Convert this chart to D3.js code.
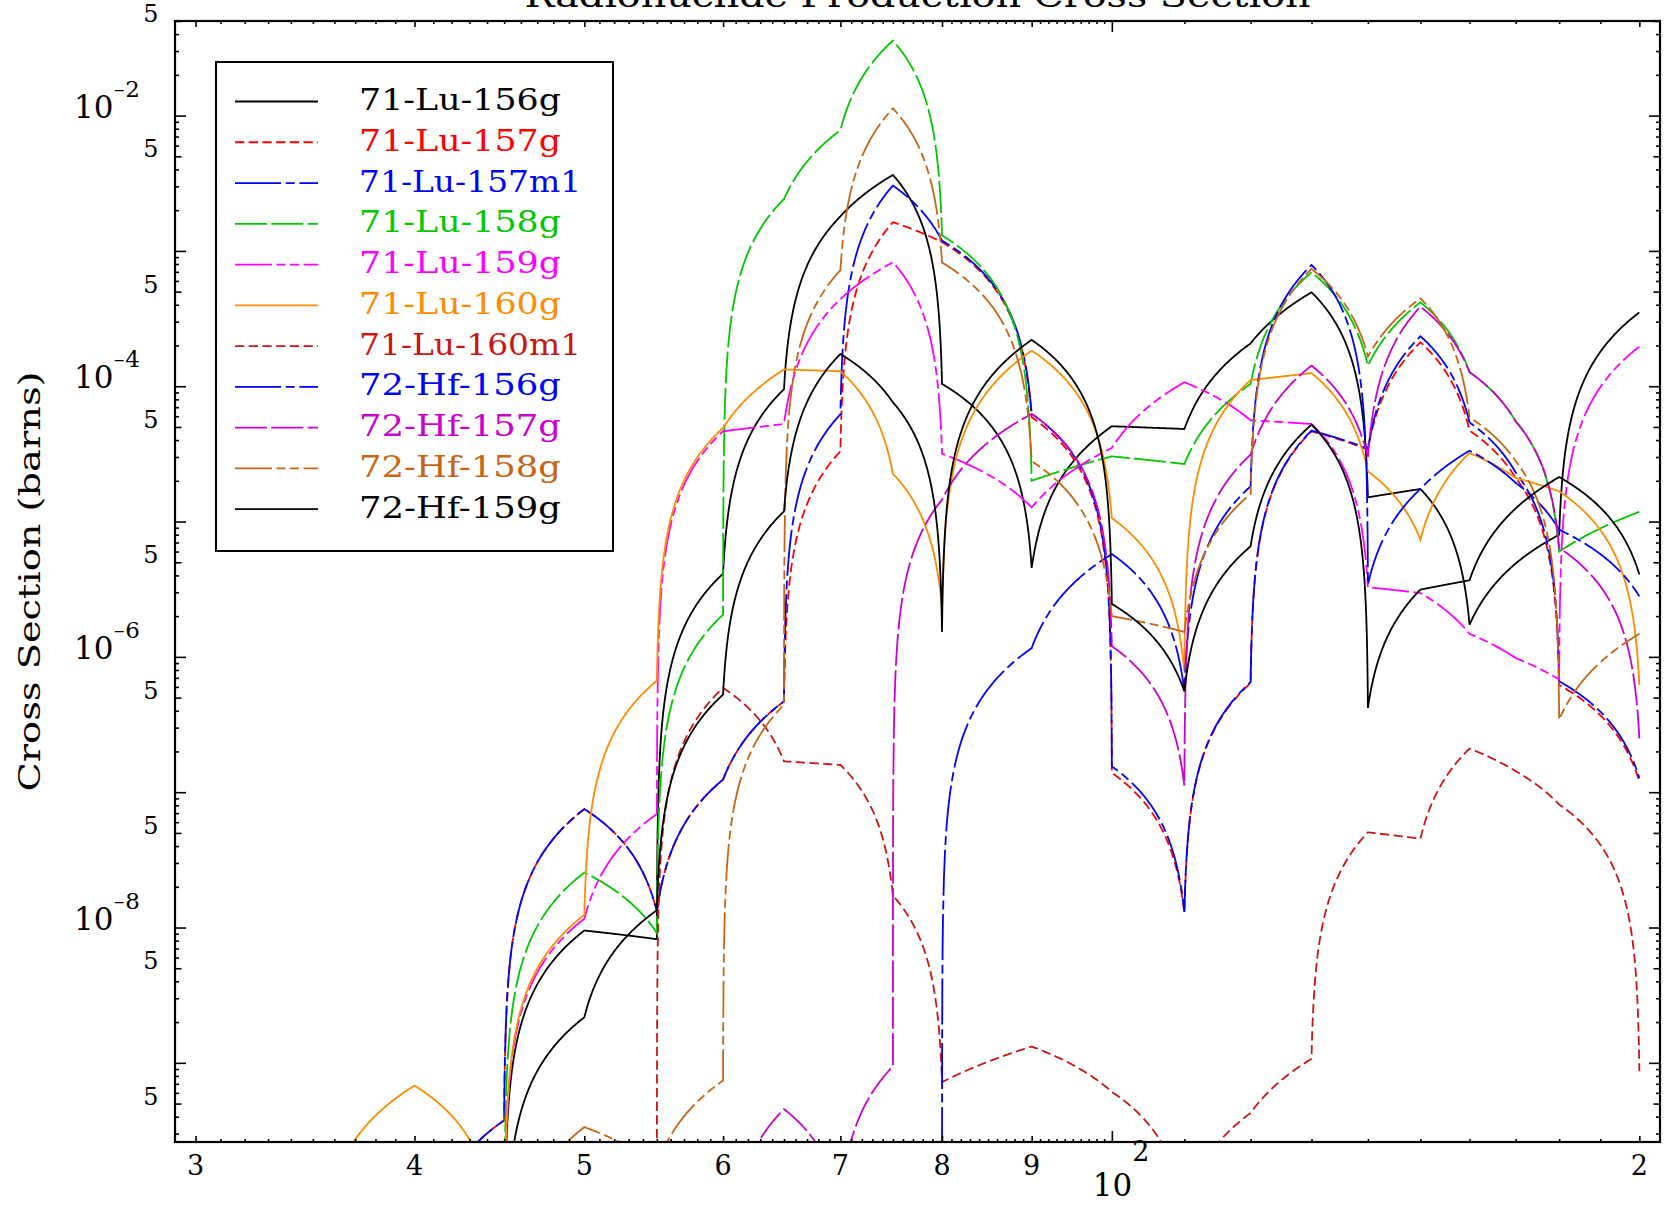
<!DOCTYPE html>
<html>
<head>
<meta charset="utf-8">
<script src="https://cdn.jsdelivr.net/npm/d3@7"></script>
<style>
body { margin: 0; background: #fff; }
svg { display: block; font-family: "DejaVu Serif", serif; }
</style>
</head>
<body>
<svg id="plot" width="1665" height="1207"></svg>
<script>
// incident energies (MeV) of the tabulated points
var energies = [35, 40, 45, 50, 55, 60, 65, 70, 75, 80, 90, 100, 110, 120, 130, 140, 150, 160, 170, 180, 200];

// production cross sections (barns), null = no point
var lu156g  = [null, null, 0, 9.5e-9, 8.2e-9, 4.12e-6, 9.5e-5, 1.8e-3, 3.64e-3, 1.04e-4, 4.54e-6, 5.06e-5, 4.83e-5, 2.07e-4, 4.94e-4, 1.51e-5, 1.74e-5, 1.73e-6, 4.9e-6, 8.0e-6, 3.51e-4];
var lu157g  = [null, 0, 3.76e-10, 7.51e-8, 1.31e-8, 1.24e-7, 4.69e-7, 3.3e-5, 1.63e-3, 1.16e-3, 5.9e-5, 1.39e-7, 1.28e-8, 6.4e-7, 4.64e-5, 3.4e-5, 2.11e-4, 4.7e-5, 2.1e-5, 6.2e-7, 1.2e-7];
var lu157m1 = [null, 0, 3.76e-10, 7.51e-8, 1.31e-8, 1.24e-7, 4.69e-7, 6.2e-5, 3.04e-3, 1.19e-3, 6.25e-5, 1.55e-7, 1.3e-8, 6.5e-7, 4.7e-5, 3.45e-5, 2.34e-4, 5.4e-5, 2.3e-5, 6.6e-7, 1.27e-7];
var lu158g  = [null, null, 0, 2.55e-8, 9.1e-9, 2.05e-6, 2.42e-3, 7.8e-3, 3.58e-2, 1.3e-3, 2.0e-5, 3.03e-5, 2.66e-5, 1.04e-4, 6.95e-4, 1.42e-4, 4.17e-4, 1.27e-4, 5.5e-5, 6.0e-6, 1.18e-5];
var lu159g  = [null, null, 0, 1.16e-8, 6.9e-8, 4.65e-5, 5.26e-5, 4.4e-4, 8.24e-4, 3.17e-5, 1.27e-5, 3.5e-5, 1.07e-4, 5.6e-5, 5.26e-5, 3.27e-6, 2.96e-6, 1.48e-6, 9.8e-7, 6.8e-7, 1.96e-4];
var lu160g  = [0, 6.78e-10, 0, 1.24e-8, 6.67e-7, 4.92e-5, 1.33e-4, 1.29e-4, 2.25e-5, 2.32e-6, 1.83e-4, 1.06e-5, 7.8e-7, 1.11e-4, 1.25e-4, 2.35e-5, 7.35e-6, 3.21e-5, 2.1e-5, 1.67e-5, 6.2e-7];
var lu160m1 = [null, null, null, null, 0, 5.9e-7, 1.69e-7, 1.59e-7, 1.72e-8, 7.2e-10, 1.32e-9, 6.1e-10, 8.7e-11, 4.26e-10, 1.07e-9, 5.05e-8, 4.53e-8, 2.1e-7, 1.43e-7, 8.1e-8, 8.65e-10];
var hf156g  = [null, null, null, null, null, null, null, null, null, 0, 1.16e-6, 5.75e-6, 5.6e-7, 1.82e-5, 7.87e-4, 3.42e-6, 1.74e-5, 3.34e-5, 1.93e-5, 8.7e-6, 2.8e-6];
var hf157g  = [null, null, null, null, null, 0, 4.55e-10, 1.0e-10, 9.4e-10, 1.45e-5, 6.24e-5, 1.2e-6, 1.12e-7, 3.12e-5, 1.42e-4, 3.0e-5, 3.87e-4, 1.27e-4, 5.5e-5, 6.4e-6, 2.5e-7];
var hf158g  = [null, null, 0, 3.35e-10, 1.76e-10, 7.41e-10, 4.43e-7, 7.2e-4, 1.13e-2, 8.2e-4, 2.79e-5, 2.0e-6, 1.53e-6, 1.6e-5, 7.36e-4, 1.66e-4, 4.46e-4, 5.9e-5, 2.8e-5, 3.43e-7, 1.48e-6];
var hf159g  = [null, null, 0, 2.17e-9, 1.34e-8, 5.26e-7, 1.19e-5, 1.73e-4, 7.6e-5, 1.53e-6, 2.2e-4, 2.46e-6, 5.56e-7, 6.56e-6, 5.2e-5, 4.19e-7, 3.14e-6, 3.68e-6, 1.25e-5, 2.13e-5, 4.06e-6];

var seriesNames = ["71-Lu-156g", "71-Lu-157g", "71-Lu-157m1", "71-Lu-158g", "71-Lu-159g", "71-Lu-160g",
                   "71-Lu-160m1", "72-Hf-156g", "72-Hf-157g", "72-Hf-158g", "72-Hf-159g"];
var seriesValues = [lu156g, lu157g, lu157m1, lu158g, lu159g, lu160g, lu160m1, hf156g, hf157g, hf158g, hf159g];

// tick labels
var xLabelValues = [30, 40, 50, 60, 70, 80, 90, 200];
var xLabelTexts = ["3", "4", "5", "6", "7", "8", "9", "2"];
var yFiveValues = [5e-2, 5e-3, 5e-4, 5e-5, 5e-6, 5e-7, 5e-8, 5e-9, 5e-10];
var yDecadeValues = [1e-2, 1e-4, 1e-6, 1e-8];
var yDecadeExponents = ["2", "4", "6", "8"];

var colors = { 
    "71-Lu-156g": "#000000", "71-Lu-157g": "#ff0000", "71-Lu-157m1": "#0000ff",
    "71-Lu-158g": "#00c800", "71-Lu-159g": "#ff00ff", "71-Lu-160g": "#ff8c00",
    "71-Lu-160m1": "#cc1414", "72-Hf-156g": "#0000ff", "72-Hf-157g": "#cc00cc",
    "72-Hf-158g": "#c86414", "72-Hf-159g": "#000000"
}

var dashes = {
    "71-Lu-156g": null, "71-Lu-157g": "9.3,4.4", "71-Lu-157m1": "46,4.7,9,4.7",
    "71-Lu-158g": "32,4.3", "71-Lu-159g": "37,4.5,9,4.5,9,4.5", "71-Lu-160g": null,
    "71-Lu-160m1": "9.3,4.4", "72-Hf-156g": "46,4.7,9,4.7", "72-Hf-157g": "32,4.3",
    "72-Hf-158g": "37,4.5,9,4.5,9,4.5", "72-Hf-159g": null
}

const plot = d3.select("svg#plot");
const plotLeft = 175, plotRight = 1660, plotTop = 21, plotBottom = 1142;

const x = d3.scaleLog().domain([29.2, 205.5]).range([plotLeft, plotRight]);
const y = d3.scaleLog().domain([2.6e-10, 5e-2]).range([plotBottom, plotTop]);

// the evaluation is linear-linear between tabulated energies,
// so each segment is drawn as a straight line in data space
const floorValue = 1e-13;
const steps = [0.0003, 0.001, 0.003, 0.006].concat(d3.range(1, 100).map(k => k / 100), [0.994, 0.997, 0.999, 0.9997, 1]).sort((a, b) => a - b);

function curveLinLin(context) {
    let prev = null;
    return {
        areaStart() {}, areaEnd() {},
        lineStart() { prev = null; },
        lineEnd() {},
        point(px, py) {
            if (prev === null) {
                context.moveTo(px, py);
            } else {
                let e0 = x.invert(prev[0]), e1 = x.invert(px);
                let v0 = y.invert(prev[1]), v1 = y.invert(py);
                steps.forEach(t => {
                    context.lineTo(x(e0 + t * (e1 - e0)), y(v0 + t * (v1 - v0)));
                });
            }
            prev = [px, py];
        }
    };
}

plot.append("defs").append("clipPath")
    .attr("id", "clip")
    .append("rect")
    .attr("x", plotLeft).attr("y", plotTop)
    .attr("width", plotRight - plotLeft).attr("height", plotBottom - plotTop);

// title (cut by the top of the picture, as in the original)
plot.append("text")
    .attr("x", (plotLeft + plotRight) / 2)
    .attr("y", 7)
    .attr("text-anchor", "middle")
    .attr("font-size", 32)
    .attr("textLength", 786)
    .attr("lengthAdjust", "spacingAndGlyphs")
    .text("Radionuclide Production Cross Section");

// curves
let line = d3.line()
    .defined(d => d.v !== null)
    .x(d => x(d.e))
    .y(d => y(Math.max(d.v, floorValue)))
    .curve(curveLinLin);

let curves = plot.append("g").attr("clip-path", "url(#clip)");
seriesNames.forEach((name, i) => {
    let pts = energies.map((e, j) => ({ e: e, v: seriesValues[i][j] }));
    curves.append("path")
        .datum(pts)
        .attr("d", line)
        .attr("fill", "none")
        .attr("stroke", colors[name])
        .attr("stroke-width", 1.8)
        .attr("stroke-dasharray", dashes[name]);
});

// frame + ticks
plot.append("rect")
    .attr("x", plotLeft).attr("y", plotTop)
    .attr("width", plotRight - plotLeft).attr("height", plotBottom - plotTop)
    .attr("fill", "none")
    .attr("stroke", "black")
    .attr("stroke-width", 2.2);

function tickSet(axisGen, scale, values, len, tx, ty) {
    plot.append("g")
        .attr("transform", "translate(" + tx + "," + ty + ")")
        .call(axisGen(scale).tickValues(values).tickSizeInner(-len).tickSizeOuter(0).tickFormat(""))
        .call(g => g.select(".domain").remove())
        .call(g => g.selectAll("line").attr("stroke", "black").attr("stroke-width", 1.6));
}

const mant = v => Math.round(v / Math.pow(10, Math.floor(Math.log10(v) + 1e-9)));
let xMinor = d3.range(31, 100).filter(v => v % 10 !== 0).concat(d3.range(110, 200, 10));
let xMajor = x.ticks().filter(v => v !== 100);
let yTicks = y.ticks();
let yMinor = yTicks.filter(v => mant(v) !== 1 && mant(v) !== 5);
let yFive = yTicks.filter(v => mant(v) === 5);
let yDec = yTicks.filter(v => mant(v) === 1);

[[d3.axisBottom, 0, plotBottom], [d3.axisTop, 0, plotTop]].forEach(a => {
    tickSet(a[0], x, xMinor, 3, a[1], a[2]);
    tickSet(a[0], x, xMajor, 6, a[1], a[2]);
    tickSet(a[0], x, [100], 11, a[1], a[2]);
});
[[d3.axisLeft, plotLeft, 0], [d3.axisRight, plotRight, 0]].forEach(a => {
    tickSet(a[0], y, yMinor, 4, a[1], a[2]);
    tickSet(a[0], y, yFive, 6.5, a[1], a[2]);
    tickSet(a[0], y, yDec, 11, a[1], a[2]);
});

// x tick labels
plot.append("g").selectAll("text")
    .data(xLabelValues)
    .join("text")
    .attr("x", d => x(d))
    .attr("y", 1175)
    .attr("text-anchor", "middle")
    .attr("font-size", 27)
    .text((d, i) => xLabelTexts[i]);

let xDec = plot.append("text")
    .attr("x", x(100) - 19)
    .attr("y", 1196)
    .attr("font-size", 31);
xDec.append("tspan").text("10");
xDec.append("tspan").attr("dy", -35).attr("font-size", 27).text("2");

// y tick labels
plot.append("g").selectAll("text")
    .data(yFiveValues)
    .join("text")
    .attr("x", 151)
    .attr("y", d => y(d) + 1)
    .attr("text-anchor", "middle")
    .attr("font-size", 24)
    .text("5");

yDecadeValues.forEach((d, i) => {
    let t = plot.append("text")
        .attr("x", 74)
        .attr("y", y(d) + 2)
        .attr("font-size", 31);
    t.append("tspan").text("10");
    t.append("tspan").attr("dy", -23).attr("font-size", 14).text("\u2212");
    t.append("tspan").attr("dy", 2).attr("font-size", 23).text(yDecadeExponents[i]);
});

// y axis title
plot.append("text")
    .attr("transform", "translate(29," + (plotTop + plotBottom) / 2 + ") rotate(-90)")
    .attr("text-anchor", "middle")
    .attr("dominant-baseline", "central")
    .attr("font-size", 30)
    .attr("textLength", 420)
    .attr("lengthAdjust", "spacingAndGlyphs")
    .text("Cross Section (barns)");

// legend
let legend = plot.append("g");
legend.append("rect")
    .attr("x", 216).attr("y", 62)
    .attr("width", 397).attr("height", 489)
    .attr("fill", "white")
    .attr("stroke", "black")
    .attr("stroke-width", 2);

seriesNames.forEach((name, i) => {
    let ly = 101.5 + i * 40.77;
    legend.append("line")
        .attr("x1", 235).attr("x2", 318)
        .attr("y1", ly).attr("y2", ly)
        .attr("stroke", colors[name])
        .attr("stroke-width", 1.8)
        .attr("stroke-dasharray", dashes[name]);
    legend.append("text")
        .attr("x", 359)
        .attr("y", ly + 8.5)
        .attr("font-size", 30)
        .attr("fill", colors[name])
        .attr("textLength", name.length * 20.2)
        .attr("lengthAdjust", "spacingAndGlyphs")
        .text(name);
});
</script>
</body>
</html>
